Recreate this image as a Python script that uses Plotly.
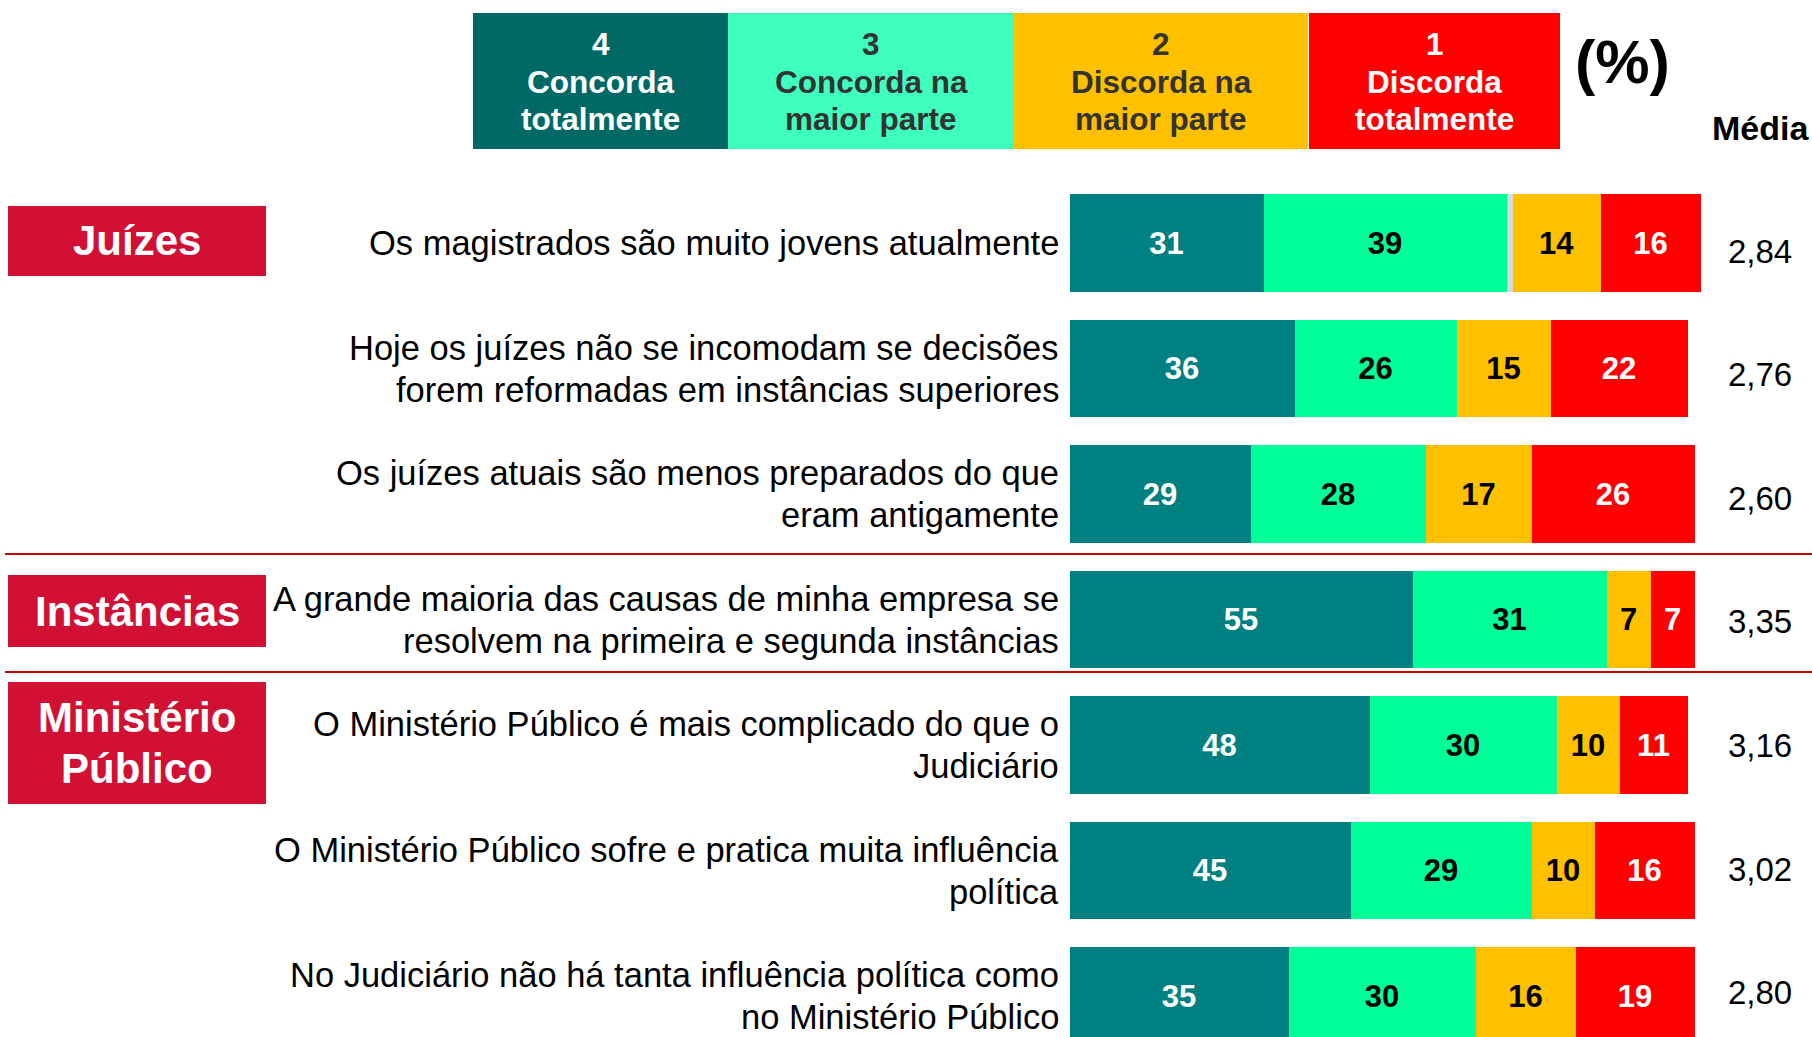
import plotly.graph_objects as go

# ---------------- data ----------------
statements = [
    "Os magistrados são muito jovens atualmente",
    "Hoje os juízes não se incomodam se decisões<br>forem reformadas em instâncias superiores",
    "Os juízes atuais são menos preparados do que<br>eram antigamente",
    "A grande maioria das causas de minha empresa se<br>resolvem na primeira e segunda instâncias",
    "O Ministério Público é mais complicado do que o<br>Judiciário",
    "O Ministério Público sofre e pratica muita influência<br>política",
    "No Judiciário não há tanta influência política como<br>no Ministério Público",
]
concorda_totalmente = [31, 36, 29, 55, 48, 45, 35]
concorda_maior_parte = [39, 26, 28, 31, 30, 29, 30]
ns_nr = [1, 0, 0, 0, 0, 0, 0]
discorda_maior_parte = [14, 15, 17, 7, 10, 10, 16]
discorda_totalmente = [16, 22, 26, 7, 11, 16, 19]
medias = ["2,84", "2,76", "2,60", "3,35", "3,16", "3,02", "2,80"]

groups = ["Juízes", "Instâncias", "Ministério<br>Público"]
legend_codes = ["4", "3", "2", "1"]
legend_labels = ["Concorda<br>totalmente", "Concorda na<br>maior parte",
                 "Discorda na<br>maior parte", "Discorda<br>totalmente"]

# ---------------- layout helpers ----------------
W, H = 1812, 1037
FONT = "Liberation Sans, Arial, sans-serif"


def px(x):
    return x / W


def py(y):
    return 1 - y / H


fig = go.Figure()

series = [
    ("Concorda totalmente", concorda_totalmente, "#008080", "white"),
    ("Concorda na maior parte", concorda_maior_parte, "#00FF99", "black"),
    ("NS/NR", ns_nr, "#D9D9D9", "black"),
    ("Discorda na maior parte", discorda_maior_parte, "#FFC000", "black"),
    ("Discorda totalmente", discorda_totalmente, "#FF0000", "white"),
]
for name, vals, color, tcol in series:
    fig.add_trace(go.Bar(
        y=list(range(len(statements))), x=vals, orientation="h", name=name,
        marker=dict(color=color, line=dict(width=0)),
        text=[("" if name == "NS/NR" else str(v)) for v in vals],
        textposition="inside", insidetextanchor="middle", textangle=0,
        constraintext="none",
        textfont=dict(family=FONT, size=31, color=tcol, weight="bold"),
        width=0.773, showlegend=False,
    ))

annotations = []
shapes = []


def multiline(text, x, y, yref, spacing, font, xanchor, align):
    lines = text.split("<br>")
    n = len(lines)
    for k, ln in enumerate(lines):
        annotations.append(dict(
            x=x, xref="paper", y=y, yref=yref, text=ln, showarrow=False,
            xanchor=xanchor, yanchor="middle", align=align,
            yshift=((n - 1) / 2 - k) * spacing, font=font))


# statement labels + means
for i, s in enumerate(statements):
    multiline(s, px(1061), i, "y", 42,
              dict(family=FONT, size=34.5, color="black"), "right", "right")
    annotations.append(dict(
        x=px(1760), xref="paper", y=py(251 + 123.6 * i), yref="paper",
        text=medias[i], showarrow=False, xanchor="center", yanchor="middle",
        font=dict(family=FONT, size=33, color="black")))

# group boxes
group_boxes = [(206, 276), (575, 647), (682, 804)]
for g, (y0, y1) in zip(groups, group_boxes):
    shapes.append(dict(type="rect", xref="paper", yref="paper",
                       x0=px(8), x1=px(266), y0=py(y1), y1=py(y0),
                       fillcolor="#D11034", line=dict(width=0), layer="below"))
    multiline(g, px(137), py((y0 + y1) / 2), "paper", 51,
              dict(family=FONT, size=42, color="white", weight="bold"),
              "center", "center")

# separator lines
for yl in (554, 672):
    shapes.append(dict(type="line", xref="paper", yref="paper",
                       x0=px(5), x1=1, y0=py(yl), y1=py(yl),
                       line=dict(color="#C80000", width=2)))

# legend header boxes
leg_boxes = [(473, 728, "#006966", "white"), (728, 1014, "#3FFFBF", "#333333"),
             (1014, 1308, "#FFC000", "#333333"), (1309, 1560, "#FF0000", "white")]
for code, lab, (x0, x1, fc, tc) in zip(legend_codes, legend_labels, leg_boxes):
    shapes.append(dict(type="rect", xref="paper", yref="paper",
                       x0=px(x0), x1=px(x1), y0=py(149), y1=py(13),
                       fillcolor=fc, line=dict(width=0), layer="below"))
    multiline(code + "<br>" + lab, px((x0 + x1) / 2), py(82), "paper", 37.5,
              dict(family=FONT, size=31.5, color=tc, weight="bold"),
              "center", "center")

annotations.append(dict(x=px(1622), xref="paper", y=py(62), yref="paper",
                        text="(%)", showarrow=False, xanchor="center", yanchor="middle",
                        font=dict(family=FONT, size=61, color="black", weight="bold")))
annotations.append(dict(x=px(1760), xref="paper", y=py(128), yref="paper",
                        text="Média", showarrow=False, xanchor="center", yanchor="middle",
                        font=dict(family=FONT, size=34, color="black", weight="bold")))

x_start, unit = 1069.5, 6.245
x_max = 110
fig.update_layout(
    width=W, height=H, margin=dict(l=0, r=0, t=0, b=0),
    paper_bgcolor="white", plot_bgcolor="white",
    barmode="stack", bargap=0,
    xaxis=dict(domain=[px(x_start), px(x_start + unit * x_max)], range=[0, x_max],
               visible=False, fixedrange=True),
    yaxis=dict(domain=[0, 1], range=[(H - 243) / 125.5, -243 / 125.5],
               visible=False, fixedrange=True),
    shapes=shapes, annotations=annotations,
    font=dict(family=FONT),
)

fig.write_html("out.html", config={"displayModeBar": False},
               post_script="document.body.style.margin='0';document.body.style.overflow='hidden';")
